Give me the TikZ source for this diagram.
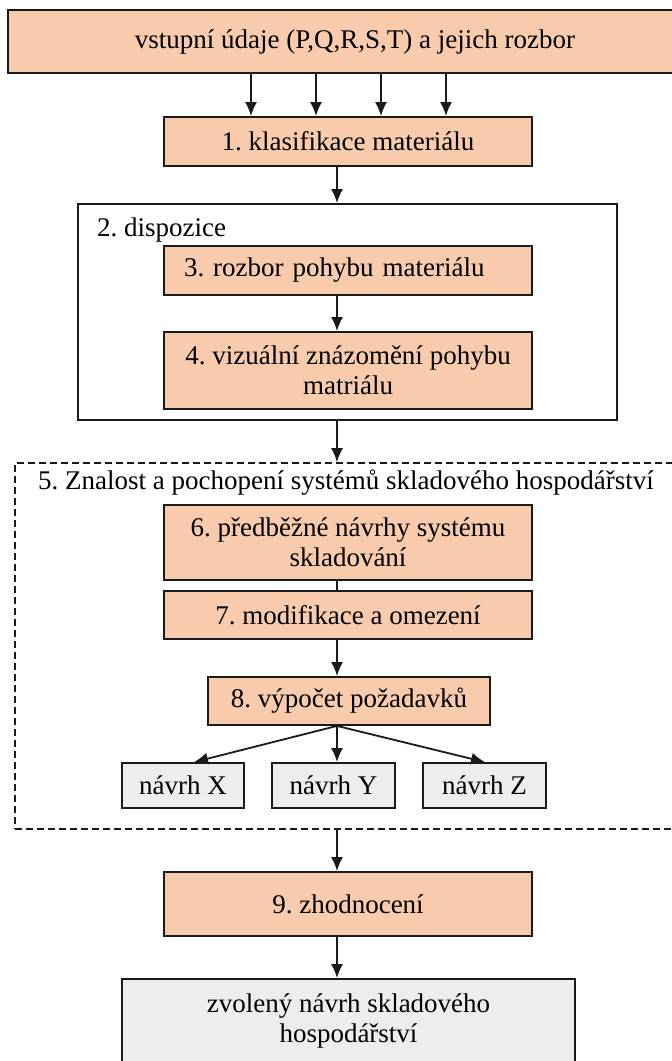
\documentclass[tikz,border=0pt]{standalone}
\usepackage{fontspec}
\setmainfont{Liberation Serif}
\usetikzlibrary{arrows.meta}
\definecolor{orng}{HTML}{F8CBAD}
\definecolor{gry}{HTML}{EDEDED}
\definecolor{ink}{HTML}{1A1A1A}
\tikzset{
  box/.style={draw=ink, line width=1.8pt, rectangle, inner sep=0pt, align=center,
              font=\fontsize{27}{30}\selectfont\frenchspacing},
  obox/.style={box, fill=orng},
  gbox/.style={box, fill=gry},
  frame/.style={draw=ink, line width=1.8pt, fill=white, rectangle, inner sep=0pt},
  dframe/.style={draw=ink, line width=1.6pt, dash pattern=on 7pt off 4pt, rectangle, inner sep=0pt},
  arr/.style={draw=ink, line width=1.8pt, -{Latex[length=14pt,width=12pt]}},
  plain/.style={draw=ink, line width=1.8pt},
  lbl/.style={font=\fontsize{27}{30}\selectfont\frenchspacing, inner sep=0pt},
}
\begin{document}
\begin{tikzpicture}[x=1pt,y=1pt]
\useasboundingbox (0,0) rectangle (672,-1061);
\fill[white] (0,0) rectangle (672,-1061);

\coordinate (col) at (337,0);
\coordinate (c1) at (251,0);
\coordinate (c2) at (316,0);
\coordinate (c3) at (381,0);
\coordinate (c4) at (446,0);
\coordinate (xe) at (194,0);
\coordinate (ze) at (485,0);

% top input box
\node[obox, minimum width=694, minimum height=63] (in) at (355,-41.5)
  {vstupní údaje (P,Q,R,S,T) a jejich rozbor};

% 1
\node[obox, minimum width=368, minimum height=49] (b1) at (348,-141.5)
  {1. klasifikace materiálu};

% 2 frame
\node[frame, minimum width=539, minimum height=216] (disp) at (347.5,-312) {};
\node[lbl, anchor=west] (t2) at (97,-230) {2. dispozice};

% 3
\node[obox, minimum width=368, minimum height=49, text width=328pt, inner xsep=20pt,
      align=left] (b3) at (348,-270.5) {3. rozbor pohybu materiálu};
% 4
\node[obox, minimum width=368, minimum height=77] (b4) at (348,-370.5)
  {4. vizuální znázomění pohybu\\matriálu};

% 5 dashed frame
\node[dframe, minimum width=685, minimum height=366] (kn) at (357.5,-646) {};
\node[lbl] (t5) at (346,-483) {5. Znalost a pochopení systémů skladového hospodářství};

% 6
\node[obox, minimum width=368, minimum height=75] (b6) at (348,-542.5)
  {6. předběžné návrhy systému\\skladování};
% 7
\node[obox, minimum width=368, minimum height=48] (b7) at (348,-615)
  {7. modifikace a omezení};
% 8
\node[obox, minimum width=282, minimum height=48] (b8) at (349,-701)
  {8. výpočet požadavků};

% variants
\node[gbox, minimum width=122, minimum height=45] (nx) at (183,-785.5) {návrh X};
\node[gbox, minimum width=123, minimum height=45] (ny) at (333.5,-785.5) {návrh Y};
\node[gbox, minimum width=123, minimum height=45] (nz) at (484.5,-785.5) {návrh Z};

% 9
\node[obox, minimum width=368, minimum height=64] (b9) at (348,-904)
  {9. zhodnocení};

% final
\node[gbox, minimum width=453, minimum height=84] (fin) at (348.5,-1021)
  {zvolený návrh skladového\\hospodářství};

% connectors
\draw[arr] (in.south -| c1) -- (b1.north -| c1);
\draw[arr] (in.south -| c2) -- (b1.north -| c2);
\draw[arr] (in.south -| c3) -- (b1.north -| c3);
\draw[arr] (in.south -| c4) -- (b1.north -| c4);
\draw[arr] (b1.south -| col) -- (disp.north -| col);
\draw[arr] (b3.south -| col) -- (b4.north -| col);
\draw[arr] (disp.south -| col) -- (kn.north -| col);
\draw[plain] (b6.south -| col) -- (b7.north -| col);
\draw[arr] (b7.south -| col) -- (b8.north -| col);
\draw[arr] (b8.south -| col) -- (nx.north -| xe);
\draw[arr] (b8.south -| col) -- (ny.north -| col);
\draw[arr] (b8.south -| col) -- (nz.north -| ze);
\draw[arr] (kn.south -| col) -- (b9.north -| col);
\draw[arr] (b9.south -| col) -- (fin.north -| col);
\end{tikzpicture}
\end{document}
